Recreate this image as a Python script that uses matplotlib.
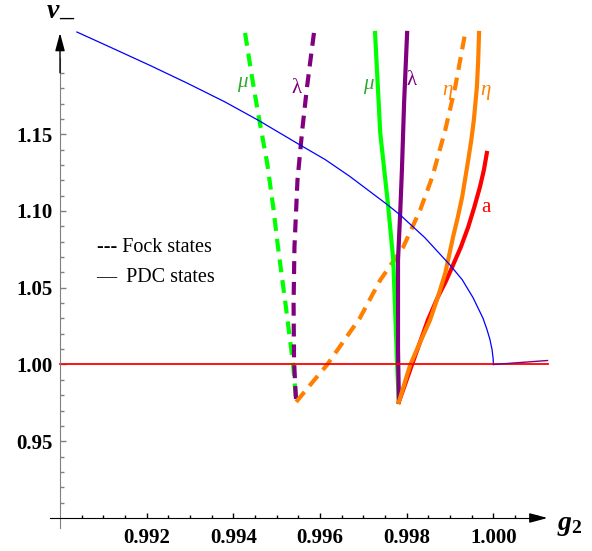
import numpy as np
import matplotlib.pyplot as plt
from matplotlib.ticker import FixedLocator, FormatStrFormatter

plt.rcParams['font.family'] = ['Liberation Serif', 'DejaVu Serif']
plt.rcParams['mathtext.fontset'] = 'custom'
plt.rcParams['mathtext.rm'] = 'Liberation Serif:bold'
plt.rcParams['mathtext.it'] = 'Liberation Serif:italic:bold'
plt.rcParams['mathtext.bf'] = 'Liberation Serif:bold'

# Fock states (dashed)
mu_f_x = [0.99427, 0.99443, 0.99457, 0.99478, 0.99492, 0.99503, 0.99521, 0.99538, 0.99545]
mu_f_y = [1.2160, 1.1873, 1.1638, 1.1313, 1.1026, 1.0765, 1.0380, 1.0000, 0.9756]
lam_f_x = [0.99586, 0.99570, 0.99559, 0.99548, 0.99541, 0.99539, 0.99540, 0.99543, 0.99545]
lam_f_y = [1.2160, 1.1808, 1.1528, 1.1202, 1.0765, 1.0400, 1.0030, 0.9850, 0.9756]
eta_f_x = [0.99545, 0.99580, 0.99616, 0.99692, 0.99739, 0.99792, 0.99831, 0.99859, 0.99889, 0.99912, 0.99935]
eta_f_y = [0.9756, 0.9876, 0.9997, 1.0303, 1.0550, 1.0765, 1.1006, 1.1221, 1.1528, 1.1808, 1.2160]

# PDC states (solid)
mu_p_x = [0.99727, 0.99739, 0.99757, 0.99769, 0.99778, 0.99782]
mu_p_y = [1.2160, 1.1508, 1.1039, 1.0681, 1.0000, 0.9756]
lam_p_x = [0.99801, 0.99794, 0.99789, 0.99785, 0.99780, 0.99780, 0.99782]
lam_p_y = [1.2160, 1.1703, 1.1267, 1.0987, 1.0680, 1.0100, 0.9756]
eta_p_x = [0.99782, 0.99795, 0.99808, 0.99831, 0.99854, 0.99872, 0.99889, 0.99898, 0.99907,
           0.99918, 0.99928, 0.99942, 0.99949, 0.99955, 0.99962, 0.99965, 0.99967]
eta_p_y = [0.9756, 0.9877, 0.9997, 1.0145, 1.0290, 1.0440, 1.0596, 1.0712, 1.0831,
           1.0960, 1.1091, 1.1332, 1.1460, 1.1593, 1.1808, 1.1980, 1.2160]
a_x = [0.99782, 0.99812, 0.99849, 0.99872, 0.99890, 0.99905, 0.99925, 0.99942, 0.99956, 0.99969, 0.99978, 0.99985]
a_y = [0.9756, 0.9997, 1.0290, 1.0440, 1.0540, 1.0635, 1.0765, 1.0896, 1.1025, 1.1156, 1.1265, 1.1378]

# blue boundary curve
blue_x = [0.99039, 0.99120, 0.99208, 0.99295, 0.99381, 0.99457, 0.99554, 0.99612, 0.99669,
          0.99755, 0.99785, 0.99842, 0.99900, 0.99928, 0.99953, 0.99976, 0.99985, 0.99992,
          0.99997, 0.999995, 1.00000]
blue_y = [1.2166, 1.2062, 1.1948, 1.1831, 1.1710, 1.1592, 1.1430, 1.1335, 1.1225,
          1.1042, 1.0974, 1.0826, 1.0648, 1.0553, 1.0436, 1.0302, 1.0230, 1.0164,
          1.0097, 1.0039, 1.0000]

# short purple tail and the nu=1 line
tail_x = [1.00000, 1.00125]
tail_y = [1.0000, 1.0026]
one_x = [0.990, 1.00125]
one_y = [1.0, 1.0]

xticks = [0.992, 0.994, 0.996, 0.998, 1.000]
yticks = [0.95, 1.00, 1.05, 1.10, 1.15]

green = '#00ff00'
purple = '#800080'
orange = '#ff8000'
red = '#ff0000'

fig = plt.figure(figsize=(5.92, 5.51), dpi=100)
ax = fig.add_axes([40/592, 0, 520/592, 1])
ax.set_xlim(0.989538, 1.001538)
ax.set_ylim(0.87850, 1.23746)

lw = 3
dash = (3.1, 1.9)
ax.plot(mu_f_x, mu_f_y, color=green, lw=lw, dashes=dash)
ax.plot(lam_f_x, lam_f_y, color=purple, lw=lw, dashes=dash)
ax.plot(eta_f_x, eta_f_y, color=orange, lw=lw, dashes=dash)
ax.plot(mu_p_x, mu_p_y, color=green, lw=lw)
ax.plot(lam_p_x, lam_p_y, color=purple, lw=lw)
ax.plot(a_x, a_y, color=red, lw=lw)
ax.plot(eta_p_x, eta_p_y, color=orange, lw=lw)
ax.plot(blue_x, blue_y, color='#0000ff', lw=0.9)
ax.plot(one_x, one_y, color=red, lw=1.3)
ax.plot(tail_x, tail_y, color=purple, lw=1.0)

# Mathematica-like axes
for s in ['top', 'right']:
    ax.spines[s].set_visible(False)
ax.spines['left'].set_position(('data', 0.990))
ax.spines['bottom'].set_position(('data', 0.900))
ax.spines['left'].set_bounds(0.8935, 1.20)
ax.spines['bottom'].set_bounds(0.98977, 1.0011)
ax.spines['left'].set_color('#808080')
ax.spines['bottom'].set_color('black')
ax.annotate('', xy=(0.990, 1.2160), xytext=(0.990, 1.19),
            arrowprops=dict(arrowstyle='-|>,head_length=1.08,head_width=0.29',
                            color='black', lw=1, shrinkA=0, shrinkB=0, mutation_scale=10))
ax.annotate('', xy=(1.00125, 0.900), xytext=(1.0009, 0.900),
            arrowprops=dict(arrowstyle='-|>,head_length=1.08,head_width=0.29',
                            color='black', lw=1, shrinkA=0, shrinkB=0, mutation_scale=10))

ax.xaxis.set_major_locator(FixedLocator(xticks))
ax.xaxis.set_minor_locator(FixedLocator([0.9905 + 0.0005*i for i in range(22)]))
ax.yaxis.set_major_locator(FixedLocator(yticks))
ax.yaxis.set_minor_locator(FixedLocator([0.91 + 0.01*i for i in range(29)]))
ax.xaxis.set_major_formatter(FormatStrFormatter('%.3f'))
ax.yaxis.set_major_formatter(FormatStrFormatter('%.2f'))
ax.tick_params(axis='x', which='major', direction='in', length=3.6, width=1, pad=7)
ax.tick_params(axis='x', which='minor', direction='in', length=2.2, width=1)
ax.tick_params(axis='y', which='major', direction='in', length=4.3, width=1, color='#808080', pad=5)
ax.tick_params(axis='y', which='minor', direction='in', length=2.9, width=1, color='#808080')
for t in ax.get_xticklabels() + ax.get_yticklabels():
    t.set_fontsize(15)
    t.set_fontweight('bold')

# axis labels
ax.text(0.98970, 1.2257, 'ν', fontsize=20, fontweight='bold', style='italic', ha='left', va='baseline')
ax.text(0.98998, 1.2215, '–', fontsize=20, fontweight='bold', ha='left', va='baseline')
ax.text(1.00177, 0.8922, r'$g_{2}$', fontsize=20, ha='center', va='baseline')

# curve labels
ax.text(0.99420, 1.1840, 'μ', color='#2fa82f', fontsize=15, style='italic', ha='center', va='center')
ax.text(0.99547, 1.1801, 'λ', color=purple, fontsize=15, ha='center', va='center')
ax.text(0.99711, 1.1821, 'μ', color='#2fa82f', fontsize=15, style='italic', ha='center', va='center')
ax.text(0.99812, 1.1853, 'λ', color=purple, fontsize=15, ha='center', va='center')
ax.text(0.99893, 1.1788, 'η', color=orange, fontsize=15, style='italic', ha='center', va='center')
ax.text(0.99981, 1.1788, 'η', color=orange, fontsize=15, style='italic', ha='center', va='center')
ax.text(0.99983, 1.1020, 'a', color=red, fontsize=15, ha='center', va='center')

# legend text
ax.text(0.99086, 1.0765, '--- Fock states', fontsize=14.5, ha='left', va='center')
ax.text(0.99084, 1.0570, '—  PDC states', fontsize=14.5, ha='left', va='center')

fig.savefig('out.png', dpi=100)
